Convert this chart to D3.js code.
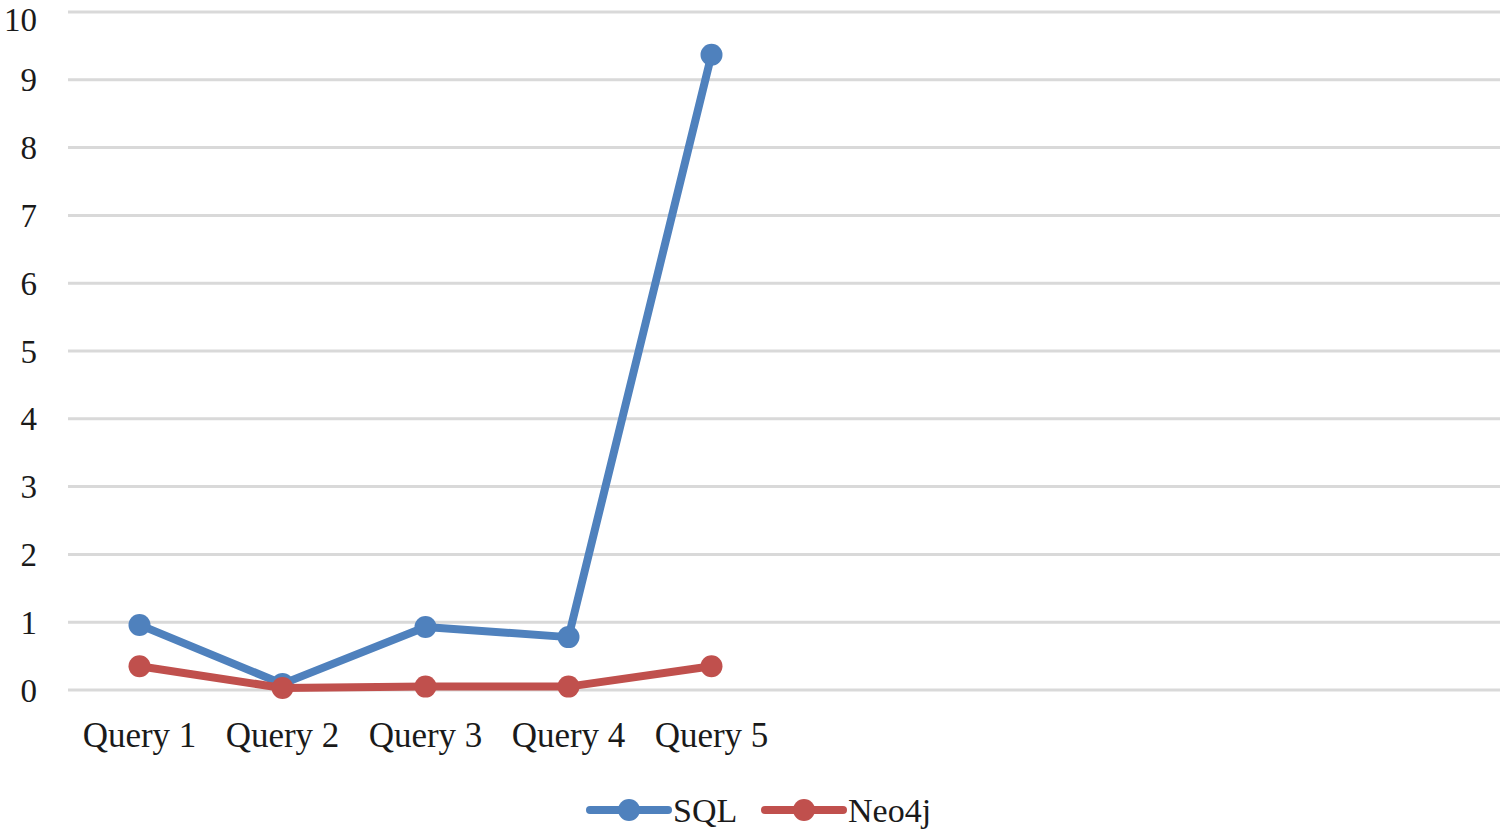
<!DOCTYPE html>
<html><head><meta charset="utf-8">
<script src="https://cdn.jsdelivr.net/npm/d3@7"></script>
<style>html,body{margin:0;padding:0;background:#fff;}svg{display:block;}</style>
</head><body>
<svg id="c" width="1500" height="830"></svg>
<script>
const categories = ["Query 1","Query 2","Query 3","Query 4","Query 5","","","","",""];
const sqlValues = [0.96, 0.09, 0.93, 0.78, 9.37];
const neo4jValues = [0.35, 0.03, 0.05, 0.05, 0.35];
const yTicks = [0,1,2,3,4,5,6,7,8,9,10];
const seriesNames = ["SQL","Neo4j"];
const seriesColors = ["#4f81bd","#c0504d"];

const svg = d3.select("#c");
const font = "'Liberation Serif', serif";
const x = d3.scaleBand().domain(d3.range(categories.length)).range([68, 1498]);
const y = d3.scaleLinear().domain([0,10]).range([690, 12]);

// gridlines
svg.append("g").selectAll("line").data(yTicks).join("line")
  .attr("x1", 68).attr("x2", 1500)
  .attr("y1", d=>y(d)).attr("y2", d=>y(d))
  .attr("stroke", "#d9d9d9").attr("stroke-width", 3);

// y labels
svg.append("g").selectAll("text").data(yTicks).join("text")
  .attr("x", 37).attr("y", d=>Math.max(y(d), 19)).attr("dy","0.35em")
  .attr("text-anchor","end").attr("font-family", font).attr("font-size", 33)
  .attr("fill","#1a1a1a").text(d=>d);

// x labels
svg.append("g").selectAll("text").data(categories).join("text")
  .attr("x", (d,i)=>x(i)+x.bandwidth()/2).attr("y", 747)
  .attr("text-anchor","middle").attr("font-family", font).attr("font-size", 35)
  .attr("fill","#1a1a1a").text(d=>d);

const series = [sqlValues, neo4jValues];
const line = d3.line().x((d,i)=>x(i)+x.bandwidth()/2).y(d=>y(d));
series.forEach((vals, si) => {
  const g = svg.append("g");
  g.append("path").datum(vals).attr("d", line)
    .attr("fill","none").attr("stroke", seriesColors[si]).attr("stroke-width", 8)
    .attr("stroke-linejoin","round").attr("stroke-linecap","round");
  g.selectAll("circle").data(vals).join("circle")
    .attr("cx",(d,i)=>x(i)+x.bandwidth()/2).attr("cy", d=>y(d)).attr("r", 11)
    .attr("fill", seriesColors[si]);
});

// legend
const legendX = [590, 765];
seriesNames.forEach((name, i) => {
  const g = svg.append("g").attr("transform", `translate(${legendX[i]},810)`);
  g.append("line").attr("x1",0).attr("x2",78).attr("y1",0).attr("y2",0)
    .attr("stroke", seriesColors[i]).attr("stroke-width",8).attr("stroke-linecap","round");
  g.append("circle").attr("cx",39).attr("cy",0).attr("r",11).attr("fill",seriesColors[i]);
  g.append("text").attr("x",83).attr("y",0).attr("dy","0.35em")
    .attr("font-family", font).attr("font-size",34).attr("fill","#1a1a1a").text(name);
});
</script>
</body></html>
